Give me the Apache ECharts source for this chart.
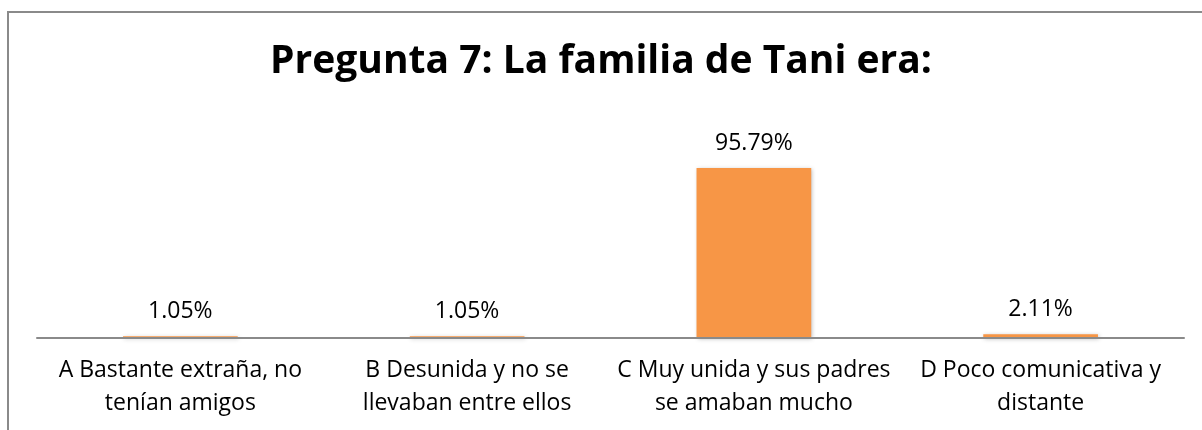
<!DOCTYPE html>
<html>
<head>
<meta charset="utf-8">
<script src="https://cdn.jsdelivr.net/npm/echarts@6/dist/echarts.min.js"></script>
<style>
  html, body { margin: 0; padding: 0; background: #fff; }
  #chart { width: 1202px; height: 430px; }
</style>
</head>
<body>
<div id="chart"></div>
<script>
const categories = [
  'A Bastante extraña, no\ntenían amigos',
  'B Desunida y no se\nllevaban entre ellos',
  'C Muy unida y sus padres\nse amaban mucho',
  'D Poco comunicativa y\ndistante'
]
const percentages = [1.05, 1.05, 95.79, 2.11]

const chart = echarts.init(document.getElementById('chart'))

const option = {
  backgroundColor: '#fff',
  animation: false,
  title: {
    text: 'Pregunta 7: La familia de Tani era:',
    left: 'center',
    top: 37,
    textStyle: {
      fontFamily: 'Open Sans',
      fontWeight: 'bold',
      fontSize: 39,
      color: '#000'
    }
  },
  // outer chart frame (cut off on the right and bottom)
  graphic: [{
    type: 'rect',
    shape: { x: 8, y: 12, width: 1400, height: 600 },
    style: { fill: 'none', stroke: '#8a8a8a', lineWidth: 2 },
    silent: true
  }],
  grid: {
    left: 37,
    right: 18,
    top: 160.5,
    bottom: 92
  },
  xAxis: {
    type: 'category',
    data: categories,
    z: 5,
    axisLine: { lineStyle: { color: '#8a8a8a', width: 2 } },
    axisTick: { show: false },
    axisLabel: {
      interval: 0,
      margin: 16,
      fontFamily: 'Open Sans',
      fontSize: 23,
      lineHeight: 33,
      color: '#000'
    }
  },
  yAxis: {
    type: 'value',
    min: 0,
    max: 100,
    show: false
  },
  series: [{
    type: 'bar',
    data: percentages,
    barWidth: '40%',
    itemStyle: {
      color: '#F79646',
      shadowColor: 'rgba(0,0,0,0.25)',
      shadowBlur: 4,
      shadowOffsetX: 1,
      shadowOffsetY: 1
    },
    label: {
      show: true,
      position: 'top',
      distance: 13,
      fontFamily: 'Open Sans',
      fontSize: 23,
      color: '#000',
      formatter: p => p.value.toFixed(2) + '%'
    }
  }]
}

chart.setOption(option)
</script>
</body>
</html>
